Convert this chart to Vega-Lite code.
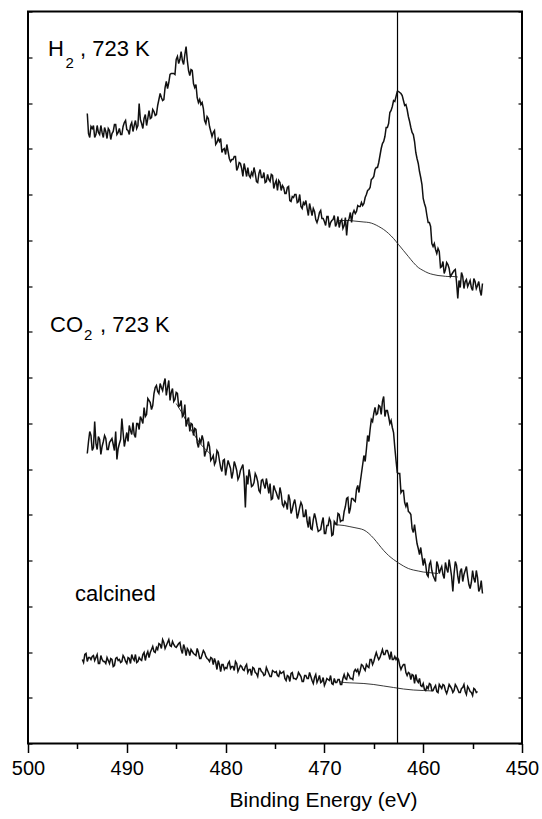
{
  "$schema": "https://vega.github.io/schema/vega-lite/v6.json",
  "width": 494,
  "height": 732,
  "autosize": "none",
  "padding": {"left": 28, "top": 11.5, "right": 20, "bottom": 75.5},
  "background": "white",
  "config": {
    "view": {"stroke": "#000", "strokeWidth": 2},
    "font": "Liberation Sans"
  },
  "datasets": {
    "h2": [
      {"e":494,"v":630},{"e":493.75,"v":606},{"e":493.5,"v":615},{"e":493.25,"v":606},{"e":493,"v":618},
      {"e":492.75,"v":609},{"e":492.5,"v":611},{"e":492.25,"v":616},{"e":492,"v":605},{"e":491.75,"v":613},
      {"e":491.5,"v":610},{"e":491.25,"v":619},{"e":491,"v":609},{"e":490.75,"v":615},{"e":490.5,"v":609},
      {"e":490.25,"v":621},{"e":490,"v":614},{"e":489.75,"v":609},{"e":489.5,"v":621},{"e":489.25,"v":618},
      {"e":489,"v":615},{"e":488.75,"v":640},{"e":488.5,"v":620},{"e":488.25,"v":625},{"e":488,"v":618},
      {"e":487.75,"v":633},{"e":487.5,"v":626},{"e":487.25,"v":632},{"e":487,"v":629},{"e":486.75,"v":644},
      {"e":486.5,"v":646},{"e":486.25,"v":644},{"e":486,"v":662},{"e":485.75,"v":661},{"e":485.5,"v":670},
      {"e":485.25,"v":670},{"e":485,"v":684},{"e":484.75,"v":680},{"e":484.5,"v":692},{"e":484.25,"v":679},
      {"e":484,"v":697},{"e":483.75,"v":673},{"e":483.5,"v":674},{"e":483.25,"v":660},{"e":483,"v":659},
      {"e":482.75,"v":641},{"e":482.5,"v":639},{"e":482.25,"v":635},{"e":482,"v":620},{"e":481.75,"v":625},
      {"e":481.5,"v":612},{"e":481.25,"v":611},{"e":481,"v":599},{"e":480.75,"v":605},{"e":480.5,"v":605},
      {"e":480.25,"v":594},{"e":480,"v":589},{"e":479.75,"v":592},{"e":479.5,"v":582},{"e":479.25,"v":584},
      {"e":479,"v":587},{"e":478.75,"v":576},{"e":478.5,"v":580},{"e":478.25,"v":567},{"e":478,"v":574},
      {"e":477.75,"v":576},{"e":477.5,"v":566},{"e":477.25,"v":568},{"e":477,"v":570},{"e":476.75,"v":561},
      {"e":476.5,"v":574},{"e":476.25,"v":566},{"e":476,"v":561},{"e":475.75,"v":569},{"e":475.5,"v":562},
      {"e":475.25,"v":568},{"e":475,"v":560},{"e":474.75,"v":553},{"e":474.5,"v":561},{"e":474.25,"v":558},
      {"e":474,"v":550},{"e":473.75,"v":556},{"e":473.5,"v":543},{"e":473.25,"v":547},{"e":473,"v":549},
      {"e":472.75,"v":541},{"e":472.5,"v":549},{"e":472.25,"v":535},{"e":472,"v":539},{"e":471.75,"v":535},
      {"e":471.5,"v":540},{"e":471.25,"v":528},{"e":471,"v":532},{"e":470.75,"v":521},{"e":470.5,"v":531},
      {"e":470.25,"v":525},{"e":470,"v":522},{"e":469.75,"v":527},{"e":469.5,"v":516},{"e":469.25,"v":523},
      {"e":469,"v":528},{"e":468.75,"v":520},{"e":468.5,"v":516},{"e":468.25,"v":524},{"e":468,"v":518},
      {"e":467.75,"v":508},{"e":467.5,"v":525},{"e":467.25,"v":521},{"e":467,"v":533},{"e":466.75,"v":532},
      {"e":466.5,"v":537},{"e":466.25,"v":541},{"e":466,"v":540},{"e":465.75,"v":549},{"e":465.5,"v":554},
      {"e":465.25,"v":564},{"e":465,"v":567},{"e":464.75,"v":576},{"e":464.5,"v":581},{"e":464.25,"v":595},
      {"e":464,"v":602},{"e":463.75,"v":616},{"e":463.5,"v":620},{"e":463.25,"v":633},{"e":463,"v":643},
      {"e":462.75,"v":647},{"e":462.5,"v":652},{"e":462.25,"v":650},{"e":462,"v":643},{"e":461.75,"v":639},
      {"e":461.5,"v":627},{"e":461.25,"v":616},{"e":461,"v":609},{"e":460.75,"v":591},{"e":460.5,"v":580},
      {"e":460.25,"v":566},{"e":460,"v":545},{"e":459.75,"v":536},{"e":459.5,"v":521},{"e":459.25,"v":517},
      {"e":459,"v":497},{"e":458.75,"v":494},{"e":458.5,"v":495},{"e":458.25,"v":476},{"e":458,"v":482},
      {"e":457.75,"v":474},{"e":457.5,"v":479},{"e":457.25,"v":467},{"e":457,"v":471},{"e":456.75,"v":474},
      {"e":456.5,"v":445},{"e":456.25,"v":456},{"e":456,"v":467},{"e":455.75,"v":462},{"e":455.5,"v":457},
      {"e":455.25,"v":463},{"e":455,"v":453},{"e":454.75,"v":462},{"e":454.5,"v":458},{"e":454.25,"v":453},
      {"e":454,"v":460},
      {"e":493.875,"v":610},{"e":493.625,"v":617},{"e":493.375,"v":618},{"e":493.125,"v":609},{"e":492.875,"v":611},
      {"e":492.625,"v":618},{"e":492.375,"v":606},{"e":492.125,"v":612},{"e":491.875,"v":615},{"e":491.625,"v":604},
      {"e":491.375,"v":612},{"e":491.125,"v":619},{"e":490.875,"v":611},{"e":490.625,"v":609},{"e":490.375,"v":617},
      {"e":490.125,"v":623},{"e":489.875,"v":613},{"e":489.625,"v":618},{"e":489.375,"v":612},{"e":489.125,"v":623},
      {"e":488.875,"v":618},{"e":488.625,"v":624},{"e":488.375,"v":615},{"e":488.125,"v":629},{"e":487.875,"v":625},
      {"e":487.625,"v":625},{"e":487.375,"v":634},{"e":487.125,"v":628},{"e":486.875,"v":638},{"e":486.625,"v":650},
      {"e":486.375,"v":643},{"e":486.125,"v":656},{"e":485.875,"v":655},{"e":485.625,"v":669},{"e":485.375,"v":670},
      {"e":485.125,"v":669},{"e":484.875,"v":687},{"e":484.625,"v":684},{"e":484.375,"v":683},{"e":484.125,"v":689},
      {"e":483.875,"v":683},{"e":483.625,"v":668},{"e":483.375,"v":673},{"e":483.125,"v":656},{"e":482.875,"v":646},
      {"e":482.625,"v":644},{"e":482.375,"v":641},{"e":482.125,"v":623},{"e":481.875,"v":627},{"e":481.625,"v":617},
      {"e":481.375,"v":607},{"e":481.125,"v":613},{"e":480.875,"v":601},{"e":480.625,"v":602},{"e":480.375,"v":591},
      {"e":480.125,"v":595},{"e":479.875,"v":599},{"e":479.625,"v":585},{"e":479.375,"v":584},{"e":479.125,"v":587},
      {"e":478.875,"v":573},{"e":478.625,"v":581},{"e":478.375,"v":575},{"e":478.125,"v":580},{"e":477.875,"v":567},
      {"e":477.625,"v":568},{"e":477.375,"v":571},{"e":477.125,"v":576},{"e":476.875,"v":562},{"e":476.625,"v":570},
      {"e":476.375,"v":566},{"e":476.125,"v":571},{"e":475.875,"v":562},{"e":475.625,"v":564},{"e":475.375,"v":569},
      {"e":475.125,"v":555},{"e":474.875,"v":563},{"e":474.625,"v":563},{"e":474.375,"v":553},{"e":474.125,"v":556},
      {"e":473.875,"v":550},{"e":473.625,"v":557},{"e":473.375,"v":542},{"e":473.125,"v":546},{"e":472.875,"v":549},
      {"e":472.625,"v":542},{"e":472.375,"v":537},{"e":472.125,"v":541},{"e":471.875,"v":543},{"e":471.625,"v":528},
      {"e":471.375,"v":534},{"e":471.125,"v":535},{"e":470.875,"v":524},{"e":470.625,"v":525},{"e":470.375,"v":533},
      {"e":470.125,"v":525},{"e":469.875,"v":518},{"e":469.625,"v":527},{"e":469.375,"v":521},{"e":469.125,"v":524},
      {"e":468.875,"v":517},{"e":468.625,"v":527},{"e":468.375,"v":522},{"e":468.125,"v":515},{"e":467.875,"v":526},
      {"e":467.625,"v":522},{"e":467.375,"v":531},{"e":467.125,"v":530},{"e":466.875,"v":530},{"e":466.625,"v":538},
      {"e":466.375,"v":537},{"e":466.125,"v":538},{"e":465.875,"v":546},{"e":465.625,"v":553},{"e":465.375,"v":556},
      {"e":465.125,"v":565},{"e":464.875,"v":574},{"e":464.625,"v":576},{"e":464.375,"v":588},{"e":464.125,"v":600},
      {"e":463.875,"v":607},{"e":463.625,"v":616},{"e":463.375,"v":631},{"e":463.125,"v":637},{"e":462.875,"v":642},
      {"e":462.625,"v":652},{"e":462.375,"v":651},{"e":462.125,"v":648},{"e":461.875,"v":638},{"e":461.625,"v":634},
      {"e":461.375,"v":622},{"e":461.125,"v":611},{"e":460.875,"v":602},{"e":460.625,"v":585},{"e":460.375,"v":572},
      {"e":460.125,"v":559},{"e":459.875,"v":540},{"e":459.625,"v":528},{"e":459.375,"v":521},{"e":459.125,"v":500},
      {"e":458.875,"v":500},{"e":458.625,"v":490},{"e":458.375,"v":492},{"e":458.125,"v":477},{"e":457.875,"v":470},
      {"e":457.625,"v":481},{"e":457.375,"v":475},{"e":457.125,"v":469},{"e":456.875,"v":473},{"e":456.625,"v":461},
      {"e":456.375,"v":463},{"e":456.125,"v":471},{"e":455.875,"v":455},{"e":455.625,"v":464},{"e":455.375,"v":460},
      {"e":455.125,"v":456},{"e":454.875,"v":465},{"e":454.625,"v":455},{"e":454.375,"v":462},{"e":454.125,"v":448}
    ],
    "co2": [
      {"e":494,"v":290},{"e":493.75,"v":312},{"e":493.5,"v":293},{"e":493.25,"v":322},{"e":493,"v":294},
      {"e":492.75,"v":304},{"e":492.5,"v":297},{"e":492.25,"v":308},{"e":492,"v":294},{"e":491.75,"v":301},
      {"e":491.5,"v":305},{"e":491.25,"v":293},{"e":491,"v":284},{"e":490.75,"v":300},{"e":490.5,"v":325},
      {"e":490.25,"v":297},{"e":490,"v":311},{"e":489.75,"v":318},{"e":489.5,"v":309},{"e":489.25,"v":309},
      {"e":489,"v":320},{"e":488.75,"v":314},{"e":488.5,"v":324},{"e":488.25,"v":336},{"e":488,"v":329},
      {"e":487.75,"v":343},{"e":487.5,"v":334},{"e":487.25,"v":350},{"e":487,"v":358},{"e":486.75,"v":350},
      {"e":486.5,"v":356},{"e":486.25,"v":360},{"e":486,"v":348},{"e":485.75,"v":363},{"e":485.5,"v":351},
      {"e":485.25,"v":342},{"e":485,"v":351},{"e":484.75,"v":337},{"e":484.5,"v":343},{"e":484.25,"v":329},
      {"e":484,"v":317},{"e":483.75,"v":326},{"e":483.5,"v":320},{"e":483.25,"v":308},{"e":483,"v":314},
      {"e":482.75,"v":296},{"e":482.5,"v":301},{"e":482.25,"v":303},{"e":482,"v":292},{"e":481.75,"v":302},
      {"e":481.5,"v":283},{"e":481.25,"v":288},{"e":481,"v":282},{"e":480.75,"v":291},{"e":480.5,"v":276},
      {"e":480.25,"v":283},{"e":480,"v":268},{"e":479.75,"v":283},{"e":479.5,"v":275},{"e":479.25,"v":271},
      {"e":479,"v":278},{"e":478.75,"v":264},{"e":478.5,"v":273},{"e":478.25,"v":279},{"e":478,"v":236},
      {"e":477.75,"v":259},{"e":477.5,"v":267},{"e":477.25,"v":258},{"e":477,"v":270},{"e":476.75,"v":262},
      {"e":476.5,"v":251},{"e":476.25,"v":264},{"e":476,"v":255},{"e":475.75,"v":258},{"e":475.5,"v":260},
      {"e":475.25,"v":245},{"e":475,"v":254},{"e":474.75,"v":247},{"e":474.5,"v":256},{"e":474.25,"v":239},
      {"e":474,"v":242},{"e":473.75,"v":234},{"e":473.5,"v":244},{"e":473.25,"v":234},{"e":473,"v":244},
      {"e":472.75,"v":225},{"e":472.5,"v":236},{"e":472.25,"v":238},{"e":472,"v":227},{"e":471.75,"v":222},
      {"e":471.5,"v":227},{"e":471.25,"v":214},{"e":471,"v":230},{"e":470.75,"v":218},{"e":470.5,"v":213},
      {"e":470.25,"v":221},{"e":470,"v":210},{"e":469.75,"v":218},{"e":469.5,"v":225},{"e":469.25,"v":208},
      {"e":469,"v":222},{"e":468.75,"v":219},{"e":468.5,"v":229},{"e":468.25,"v":223},{"e":468,"v":232},
      {"e":467.75,"v":245},{"e":467.5,"v":230},{"e":467.25,"v":245},{"e":467,"v":243},{"e":466.75,"v":254},
      {"e":466.5,"v":251},{"e":466.25,"v":270},{"e":466,"v":288},{"e":465.75,"v":294},{"e":465.5,"v":302},
      {"e":465.25,"v":324},{"e":465,"v":330},{"e":464.75,"v":329},{"e":464.5,"v":338},{"e":464.25,"v":329},
      {"e":464,"v":347},{"e":463.75,"v":333},{"e":463.5,"v":327},{"e":463.25,"v":323},{"e":463,"v":311},
      {"e":462.75,"v":283},{"e":462.5,"v":270},{"e":462.25,"v":251},{"e":462,"v":253},{"e":461.75,"v":237},
      {"e":461.5,"v":232},{"e":461.25,"v":229},{"e":461,"v":211},{"e":460.75,"v":209},{"e":460.5,"v":195},
      {"e":460.25,"v":196},{"e":460,"v":178},{"e":459.75,"v":179},{"e":459.5,"v":167},{"e":459.25,"v":182},
      {"e":459,"v":168},{"e":458.75,"v":162},{"e":458.5,"v":178},{"e":458.25,"v":174},{"e":458,"v":169},
      {"e":457.75,"v":181},{"e":457.5,"v":171},{"e":457.25,"v":176},{"e":457,"v":152},{"e":456.75,"v":182},
      {"e":456.5,"v":167},{"e":456.25,"v":172},{"e":456,"v":162},{"e":455.75,"v":173},{"e":455.5,"v":167},
      {"e":455.25,"v":155},{"e":455,"v":173},{"e":454.75,"v":161},{"e":454.5,"v":166},{"e":454.25,"v":155},
      {"e":454,"v":150},
      {"e":493.875,"v":302},{"e":493.625,"v":308},{"e":493.375,"v":296},{"e":493.125,"v":300},{"e":492.875,"v":307},
      {"e":492.625,"v":289},{"e":492.375,"v":302},{"e":492.125,"v":305},{"e":491.875,"v":294},{"e":491.625,"v":303},
      {"e":491.375,"v":299},{"e":491.125,"v":312},{"e":490.875,"v":295},{"e":490.625,"v":304},{"e":490.375,"v":311},
      {"e":490.125,"v":304},{"e":489.875,"v":302},{"e":489.625,"v":313},{"e":489.375,"v":321},{"e":489.125,"v":306},
      {"e":488.875,"v":320},{"e":488.625,"v":327},{"e":488.375,"v":320},{"e":488.125,"v":327},{"e":487.875,"v":345},
      {"e":487.625,"v":341},{"e":487.375,"v":338},{"e":487.125,"v":356},{"e":486.875,"v":352},{"e":486.625,"v":360},
      {"e":486.375,"v":353},{"e":486.125,"v":365},{"e":485.875,"v":356},{"e":485.625,"v":343},{"e":485.375,"v":355},
      {"e":485.125,"v":344},{"e":484.875,"v":350},{"e":484.625,"v":338},{"e":484.375,"v":327},{"e":484.125,"v":339},
      {"e":483.875,"v":323},{"e":483.625,"v":312},{"e":483.375,"v":319},{"e":483.125,"v":315},{"e":482.875,"v":301},
      {"e":482.625,"v":304},{"e":482.375,"v":308},{"e":482.125,"v":287},{"e":481.875,"v":294},{"e":481.625,"v":297},
      {"e":481.375,"v":285},{"e":481.125,"v":279},{"e":480.875,"v":293},{"e":480.625,"v":283},{"e":480.375,"v":272},
      {"e":480.125,"v":284},{"e":479.875,"v":276},{"e":479.625,"v":279},{"e":479.375,"v":265},{"e":479.125,"v":282},
      {"e":478.875,"v":273},{"e":478.625,"v":267},{"e":478.375,"v":276},{"e":478.125,"v":265},{"e":477.875,"v":268},
      {"e":477.625,"v":274},{"e":477.375,"v":257},{"e":477.125,"v":261},{"e":476.875,"v":267},{"e":476.625,"v":253},
      {"e":476.375,"v":263},{"e":476.125,"v":259},{"e":475.875,"v":265},{"e":475.625,"v":250},{"e":475.375,"v":244},
      {"e":475.125,"v":258},{"e":474.875,"v":251},{"e":474.625,"v":244},{"e":474.375,"v":250},{"e":474.125,"v":237},
      {"e":473.875,"v":240},{"e":473.625,"v":249},{"e":473.375,"v":230},{"e":473.125,"v":240},{"e":472.875,"v":236},
      {"e":472.625,"v":230},{"e":472.375,"v":241},{"e":472.125,"v":227},{"e":471.875,"v":234},{"e":471.625,"v":216},
      {"e":471.375,"v":215},{"e":471.125,"v":224},{"e":470.875,"v":225},{"e":470.625,"v":212},{"e":470.375,"v":214},
      {"e":470.125,"v":226},{"e":469.875,"v":210},{"e":469.625,"v":218},{"e":469.375,"v":222},{"e":469.125,"v":209},
      {"e":468.875,"v":220},{"e":468.625,"v":230},{"e":468.375,"v":222},{"e":468.125,"v":223},{"e":467.875,"v":237},
      {"e":467.625,"v":246},{"e":467.375,"v":235},{"e":467.125,"v":245},{"e":466.875,"v":242},{"e":466.625,"v":258},
      {"e":466.375,"v":261},{"e":466.125,"v":279},{"e":465.875,"v":282},{"e":465.625,"v":308},{"e":465.375,"v":314},
      {"e":465.125,"v":322},{"e":464.875,"v":336},{"e":464.625,"v":330},{"e":464.375,"v":337},{"e":464.125,"v":342},
      {"e":463.875,"v":327},{"e":463.625,"v":333},{"e":463.375,"v":320},{"e":463.125,"v":316},{"e":462.875,"v":296},
      {"e":462.625,"v":271},{"e":462.375,"v":270},{"e":462.125,"v":253},{"e":461.875,"v":241},{"e":461.625,"v":241},
      {"e":461.375,"v":231},{"e":461.125,"v":215},{"e":460.875,"v":219},{"e":460.625,"v":200},{"e":460.375,"v":189},
      {"e":460.125,"v":187},{"e":459.875,"v":185},{"e":459.625,"v":169},{"e":459.375,"v":179},{"e":459.125,"v":173},
      {"e":458.875,"v":165},{"e":458.625,"v":182},{"e":458.375,"v":170},{"e":458.125,"v":177},{"e":457.875,"v":165},
      {"e":457.625,"v":175},{"e":457.375,"v":184},{"e":457.125,"v":167},{"e":456.875,"v":170},{"e":456.625,"v":178},
      {"e":456.375,"v":160},{"e":456.125,"v":175},{"e":455.875,"v":169},{"e":455.625,"v":177},{"e":455.375,"v":159},
      {"e":455.125,"v":161},{"e":454.875,"v":165},{"e":454.625,"v":173},{"e":454.375,"v":152},{"e":454.125,"v":163}
    ],
    "calcined": [
      {"e":494.5,"v":84},{"e":494.25,"v":89},{"e":494,"v":82},{"e":493.75,"v":86},{"e":493.5,"v":87},
      {"e":493.25,"v":83},{"e":493,"v":89},{"e":492.75,"v":80},{"e":492.5,"v":84},{"e":492.25,"v":82},
      {"e":492,"v":86},{"e":491.75,"v":80},{"e":491.5,"v":84},{"e":491.25,"v":78},{"e":491,"v":86},
      {"e":490.75,"v":84},{"e":490.5,"v":82},{"e":490.25,"v":86},{"e":490,"v":80},{"e":489.75,"v":85},
      {"e":489.5,"v":89},{"e":489.25,"v":83},{"e":489,"v":81},{"e":488.75,"v":86},{"e":488.5,"v":83},
      {"e":488.25,"v":91},{"e":488,"v":89},{"e":487.75,"v":86},{"e":487.5,"v":94},{"e":487.25,"v":92},
      {"e":487,"v":96},{"e":486.75,"v":100},{"e":486.5,"v":95},{"e":486.25,"v":101},{"e":486,"v":98},
      {"e":485.75,"v":104},{"e":485.5,"v":97},{"e":485.25,"v":99},{"e":485,"v":96},{"e":484.75,"v":100},
      {"e":484.5,"v":94},{"e":484.25,"v":99},{"e":484,"v":88},{"e":483.75,"v":93},{"e":483.5,"v":94},
      {"e":483.25,"v":90},{"e":483,"v":88},{"e":482.75,"v":91},{"e":482.5,"v":85},{"e":482.25,"v":93},
      {"e":482,"v":87},{"e":481.75,"v":84},{"e":481.5,"v":86},{"e":481.25,"v":79},{"e":481,"v":81},
      {"e":480.75,"v":83},{"e":480.5,"v":72},{"e":480.25,"v":79},{"e":480,"v":76},{"e":479.75,"v":80},
      {"e":479.5,"v":75},{"e":479.25,"v":77},{"e":479,"v":82},{"e":478.75,"v":72},{"e":478.5,"v":78},
      {"e":478.25,"v":74},{"e":478,"v":77},{"e":477.75,"v":71},{"e":477.5,"v":74},{"e":477.25,"v":76},
      {"e":477,"v":71},{"e":476.75,"v":67},{"e":476.5,"v":75},{"e":476.25,"v":71},{"e":476,"v":69},
      {"e":475.75,"v":73},{"e":475.5,"v":67},{"e":475.25,"v":73},{"e":475,"v":71},{"e":474.75,"v":68},
      {"e":474.5,"v":72},{"e":474.25,"v":71},{"e":474,"v":65},{"e":473.75,"v":68},{"e":473.5,"v":62},
      {"e":473.25,"v":71},{"e":473,"v":65},{"e":472.75,"v":66},{"e":472.5,"v":69},{"e":472.25,"v":62},
      {"e":472,"v":68},{"e":471.75,"v":65},{"e":471.5,"v":71},{"e":471.25,"v":63},{"e":471,"v":66},
      {"e":470.75,"v":61},{"e":470.5,"v":68},{"e":470.25,"v":62},{"e":470,"v":58},{"e":469.75,"v":65},
      {"e":469.5,"v":63},{"e":469.25,"v":60},{"e":469,"v":65},{"e":468.75,"v":61},{"e":468.5,"v":64},
      {"e":468.25,"v":59},{"e":468,"v":69},{"e":467.75,"v":64},{"e":467.5,"v":68},{"e":467.25,"v":65},
      {"e":467,"v":72},{"e":466.75,"v":72},{"e":466.5,"v":69},{"e":466.25,"v":79},{"e":466,"v":75},
      {"e":465.75,"v":79},{"e":465.5,"v":76},{"e":465.25,"v":84},{"e":465,"v":82},{"e":464.75,"v":91},
      {"e":464.5,"v":84},{"e":464.25,"v":90},{"e":464,"v":89},{"e":463.75,"v":93},{"e":463.5,"v":89},
      {"e":463.25,"v":92},{"e":463,"v":84},{"e":462.75,"v":84},{"e":462.5,"v":84},{"e":462.25,"v":74},
      {"e":462,"v":79},{"e":461.75,"v":71},{"e":461.5,"v":71},{"e":461.25,"v":64},{"e":461,"v":68},
      {"e":460.75,"v":69},{"e":460.5,"v":61},{"e":460.25,"v":58},{"e":460,"v":60},{"e":459.75,"v":53},
      {"e":459.5,"v":55},{"e":459.25,"v":59},{"e":459,"v":53},{"e":458.75,"v":58},{"e":458.5,"v":51},
      {"e":458.25,"v":57},{"e":458,"v":59},{"e":457.75,"v":53},{"e":457.5,"v":54},{"e":457.25,"v":57},
      {"e":457,"v":51},{"e":456.75,"v":59},{"e":456.5,"v":54},{"e":456.25,"v":51},{"e":456,"v":56},
      {"e":455.75,"v":52},{"e":455.5,"v":57},{"e":455.25,"v":52},{"e":455,"v":48},{"e":454.75,"v":54},
      {"e":454.5,"v":52},
      {"e":494.375,"v":81},{"e":494.125,"v":90},{"e":493.875,"v":86},{"e":493.625,"v":84},{"e":493.375,"v":88},
      {"e":493.125,"v":86},{"e":492.875,"v":80},{"e":492.625,"v":88},{"e":492.375,"v":82},{"e":492.125,"v":80},
      {"e":491.875,"v":83},{"e":491.625,"v":85},{"e":491.375,"v":77},{"e":491.125,"v":85},{"e":490.875,"v":83},
      {"e":490.625,"v":81},{"e":490.375,"v":88},{"e":490.125,"v":82},{"e":489.875,"v":86},{"e":489.625,"v":80},
      {"e":489.375,"v":85},{"e":489.125,"v":89},{"e":488.875,"v":82},{"e":488.625,"v":84},{"e":488.375,"v":89},
      {"e":488.125,"v":83},{"e":487.875,"v":92},{"e":487.625,"v":91},{"e":487.375,"v":97},{"e":487.125,"v":91},
      {"e":486.875,"v":94},{"e":486.625,"v":99},{"e":486.375,"v":104},{"e":486.125,"v":95},{"e":485.875,"v":101},
      {"e":485.625,"v":98},{"e":485.375,"v":102},{"e":485.125,"v":97},{"e":484.875,"v":98},{"e":484.625,"v":101},
      {"e":484.375,"v":90},{"e":484.125,"v":95},{"e":483.875,"v":95},{"e":483.625,"v":88},{"e":483.375,"v":92},
      {"e":483.125,"v":89},{"e":482.875,"v":95},{"e":482.625,"v":85},{"e":482.375,"v":89},{"e":482.125,"v":91},
      {"e":481.875,"v":85},{"e":481.625,"v":82},{"e":481.375,"v":85},{"e":481.125,"v":85},{"e":480.875,"v":74},
      {"e":480.625,"v":79},{"e":480.375,"v":79},{"e":480.125,"v":74},{"e":479.875,"v":75},{"e":479.625,"v":82},
      {"e":479.375,"v":77},{"e":479.125,"v":73},{"e":478.875,"v":80},{"e":478.625,"v":75},{"e":478.375,"v":77},
      {"e":478.125,"v":73},{"e":477.875,"v":79},{"e":477.625,"v":74},{"e":477.375,"v":68},{"e":477.125,"v":75},
      {"e":476.875,"v":70},{"e":476.625,"v":75},{"e":476.375,"v":72},{"e":476.125,"v":68},{"e":475.875,"v":76},
      {"e":475.625,"v":70},{"e":475.375,"v":67},{"e":475.125,"v":72},{"e":474.875,"v":72},{"e":474.625,"v":67},
      {"e":474.375,"v":70},{"e":474.125,"v":72},{"e":473.875,"v":63},{"e":473.625,"v":67},{"e":473.375,"v":70},
      {"e":473.125,"v":65},{"e":472.875,"v":64},{"e":472.625,"v":71},{"e":472.375,"v":67},{"e":472.125,"v":62},
      {"e":471.875,"v":68},{"e":471.625,"v":65},{"e":471.375,"v":67},{"e":471.125,"v":60},{"e":470.875,"v":69},
      {"e":470.625,"v":64},{"e":470.375,"v":61},{"e":470.125,"v":66},{"e":469.875,"v":61},{"e":469.625,"v":64},
      {"e":469.375,"v":68},{"e":469.125,"v":59},{"e":468.875,"v":61},{"e":468.625,"v":64},{"e":468.375,"v":59},
      {"e":468.125,"v":65},{"e":467.875,"v":65},{"e":467.625,"v":70},{"e":467.375,"v":65},{"e":467.125,"v":64},
      {"e":466.875,"v":74},{"e":466.625,"v":74},{"e":466.375,"v":73},{"e":466.125,"v":78},{"e":465.875,"v":73},
      {"e":465.625,"v":77},{"e":465.375,"v":84},{"e":465.125,"v":79},{"e":464.875,"v":87},{"e":464.625,"v":87},
      {"e":464.375,"v":86},{"e":464.125,"v":94},{"e":463.875,"v":89},{"e":463.625,"v":93},{"e":463.375,"v":84},
      {"e":463.125,"v":84},{"e":462.875,"v":87},{"e":462.625,"v":86},{"e":462.375,"v":78},{"e":462.125,"v":77},
      {"e":461.875,"v":79},{"e":461.625,"v":68},{"e":461.375,"v":70},{"e":461.125,"v":69},{"e":460.875,"v":60},
      {"e":460.625,"v":63},{"e":460.375,"v":65},{"e":460.125,"v":57},{"e":459.875,"v":54},{"e":459.625,"v":57},
      {"e":459.375,"v":60},{"e":459.125,"v":53},{"e":458.875,"v":56},{"e":458.625,"v":52},{"e":458.375,"v":59},
      {"e":458.125,"v":55},{"e":457.875,"v":58},{"e":457.625,"v":50},{"e":457.375,"v":59},{"e":457.125,"v":55},
      {"e":456.875,"v":53},{"e":456.625,"v":57},{"e":456.375,"v":51},{"e":456.125,"v":55},{"e":455.875,"v":59},
      {"e":455.625,"v":49},{"e":455.375,"v":55},{"e":455.125,"v":51},{"e":454.875,"v":55},{"e":454.625,"v":51}
    ],
    "background": [
      {"s":"h2","e":468.5,"v":523},{"s":"h2","e":468,"v":523},{"s":"h2","e":467.5,"v":523},{"s":"h2","e":467,"v":522.5},
      {"s":"h2","e":466.5,"v":522},{"s":"h2","e":466,"v":521.5},{"s":"h2","e":465.5,"v":521},{"s":"h2","e":465,"v":519.5},
      {"s":"h2","e":464.5,"v":517},{"s":"h2","e":464,"v":514},{"s":"h2","e":463.5,"v":510},{"s":"h2","e":463,"v":505},
      {"s":"h2","e":462.5,"v":499},{"s":"h2","e":462,"v":493},{"s":"h2","e":461.5,"v":487},{"s":"h2","e":461,"v":481},
      {"s":"h2","e":460.5,"v":476},{"s":"h2","e":460,"v":473},{"s":"h2","e":459.5,"v":470.5},{"s":"h2","e":459,"v":469},
      {"s":"h2","e":458.5,"v":468},{"s":"h2","e":458,"v":467.5},{"s":"h2","e":457.5,"v":467},{"s":"h2","e":457,"v":467},
      {"s":"h2","e":456.5,"v":466.5},
      {"s":"co2a","e":485,"v":340},{"s":"co2a","e":484.5,"v":332},{"s":"co2a","e":484,"v":323},{"s":"co2a","e":483.5,"v":314},
      {"s":"co2a","e":483,"v":306},{"s":"co2a","e":482.5,"v":299},{"s":"co2a","e":482,"v":294},{"s":"co2a","e":481.5,"v":289},
      {"s":"co2","e":469,"v":219},{"s":"co2","e":468.5,"v":218.5},{"s":"co2","e":468,"v":218},{"s":"co2","e":467.5,"v":217},
      {"s":"co2","e":467,"v":216},{"s":"co2","e":466.5,"v":215},{"s":"co2","e":466,"v":213.5},{"s":"co2","e":465.5,"v":210},
      {"s":"co2","e":465,"v":205},{"s":"co2","e":464.5,"v":199},{"s":"co2","e":464,"v":193},{"s":"co2","e":463.5,"v":188},
      {"s":"co2","e":463,"v":184},{"s":"co2","e":462.5,"v":180.5},{"s":"co2","e":462,"v":177.5},{"s":"co2","e":461.5,"v":175},
      {"s":"co2","e":461,"v":173.5},{"s":"co2","e":460.5,"v":172.5},{"s":"co2","e":460,"v":171.5},{"s":"co2","e":459.5,"v":171},
      {"s":"co2","e":459,"v":170.5},{"s":"co2","e":458.5,"v":170},
      {"s":"calcined","e":468.5,"v":62},{"s":"calcined","e":468,"v":61},{"s":"calcined","e":467,"v":60.5},
      {"s":"calcined","e":466,"v":60},{"s":"calcined","e":465,"v":59},{"s":"calcined","e":464,"v":57.5},
      {"s":"calcined","e":463,"v":56},{"s":"calcined","e":462,"v":54.5},{"s":"calcined","e":461,"v":53.5},
      {"s":"calcined","e":460,"v":53},{"s":"calcined","e":459,"v":52.5}
    ],
    "labels": [
      {"t":"H","e":497.98,"v":688},
      {"t":", 723 K","e":494.74,"v":688},
      {"t":"CO","e":497.77,"v":412},
      {"t":", 723 K","e":492.71,"v":412},
      {"t":"calcined","e":495.24,"v":143}
    ],
    "subscripts": [
      {"t":"2","e":496.2,"v":676},
      {"t":"2","e":494.33,"v":404}
    ]
  },
  "layer": [
    {
      "data": {"values": [{"e": 462.6}]},
      "mark": {"type": "rule", "color": "#000", "strokeWidth": 1.2},
      "encoding": {
        "x": {"field": "e", "type": "quantitative", "scale": {"domain": [450, 500], "reverse": true, "nice": false, "zero": false}, "axis": null}
      }
    },
    {
      "data": {"name": "background"},
      "mark": {"type": "line", "color": "#222", "strokeWidth": 0.9, "interpolate": "monotone"},
      "encoding": {
        "x": {"field": "e", "type": "quantitative", "scale": {"domain": [450, 500], "reverse": true, "nice": false, "zero": false}, "axis": null},
        "y": {"field": "v", "type": "quantitative", "scale": {"domain": [0, 732], "nice": false, "zero": false}, "axis": null},
        "detail": {"field": "s"}
      }
    },
    {
      "data": {"name": "h2"},
      "mark": {"type": "line", "color": "#111", "strokeWidth": 1.5, "strokeJoin": "miter"},
      "encoding": {
        "x": {
          "field": "e", "type": "quantitative",
          "scale": {"domain": [450, 500], "reverse": true, "nice": false, "zero": false},
          "axis": {
            "orient": "bottom", "values": [500, 490, 480, 470, 460, 450], "format": "d",
            "domain": false, "grid": false, "tickSize": 9, "tickWidth": 1.5, "tickColor": "#000",
            "labelFont": "Liberation Sans", "labelFontSize": 20, "labelColor": "#000", "labelPadding": 6,
            "labelFlush": false, "labelOverlap": false,
            "title": "Binding Energy (eV)", "titleFont": "Liberation Sans", "titleFontSize": 21,
            "titleFontWeight": "normal", "titleColor": "#000", "titleX": 295, "titleY": 63,
            "titleAlign": "center", "titleBaseline": "alphabetic"
          }
        },
        "y": {
          "field": "v", "type": "quantitative",
          "scale": {"domain": [0, 732], "nice": false, "zero": false},
          "axis": {
            "orient": "left", "values": [0, 45.75, 91.5, 137.25, 183, 228.75, 274.5, 320.25, 366, 411.75, 457.5, 503.25, 549, 594.75, 640.5, 686.25, 732],
            "labels": false, "title": null, "domain": false, "grid": false,
            "tickSize": -4, "tickWidth": 1.2, "tickColor": "#000"
          }
        }
      }
    },
    {
      "data": {"name": "co2"},
      "mark": {"type": "line", "color": "#111", "strokeWidth": 1.5, "strokeJoin": "miter"},
      "encoding": {
        "x": {
          "field": "e", "type": "quantitative",
          "scale": {"domain": [450, 500], "reverse": true, "nice": false, "zero": false},
          "axis": {
            "orient": "bottom", "values": [495, 485, 475, 465, 455],
            "labels": false, "title": null, "domain": false, "grid": false,
            "tickSize": 5, "tickWidth": 1.5, "tickColor": "#000"
          }
        },
        "y": {
          "field": "v", "type": "quantitative",
          "scale": {"domain": [0, 732], "nice": false, "zero": false},
          "axis": {
            "orient": "right", "values": [0, 45.75, 91.5, 137.25, 183, 228.75, 274.5, 320.25, 366, 411.75, 457.5, 503.25, 549, 594.75, 640.5, 686.25, 732],
            "labels": false, "title": null, "domain": false, "grid": false,
            "tickSize": -4, "tickWidth": 1.2, "tickColor": "#000"
          }
        }
      }
    },
    {
      "data": {"name": "calcined"},
      "mark": {"type": "line", "color": "#111", "strokeWidth": 1.5, "strokeJoin": "miter"},
      "encoding": {
        "x": {"field": "e", "type": "quantitative", "scale": {"domain": [450, 500], "reverse": true, "nice": false, "zero": false}, "axis": null},
        "y": {"field": "v", "type": "quantitative", "scale": {"domain": [0, 732], "nice": false, "zero": false}, "axis": null}
      }
    },
    {
      "data": {"name": "labels"},
      "mark": {"type": "text", "align": "left", "baseline": "alphabetic", "font": "Liberation Sans", "fontSize": 22, "color": "#000"},
      "encoding": {
        "x": {"field": "e", "type": "quantitative", "scale": {"domain": [450, 500], "reverse": true, "nice": false, "zero": false}, "axis": null},
        "y": {"field": "v", "type": "quantitative", "scale": {"domain": [0, 732], "nice": false, "zero": false}, "axis": null},
        "text": {"field": "t"}
      }
    },
    {
      "data": {"name": "subscripts"},
      "mark": {"type": "text", "align": "left", "baseline": "alphabetic", "font": "Liberation Sans", "fontSize": 15, "color": "#000"},
      "encoding": {
        "x": {"field": "e", "type": "quantitative", "scale": {"domain": [450, 500], "reverse": true, "nice": false, "zero": false}, "axis": null},
        "y": {"field": "v", "type": "quantitative", "scale": {"domain": [0, 732], "nice": false, "zero": false}, "axis": null},
        "text": {"field": "t"}
      }
    }
  ],
  "resolve": {"axis": {"x": "independent", "y": "independent"}}
}
